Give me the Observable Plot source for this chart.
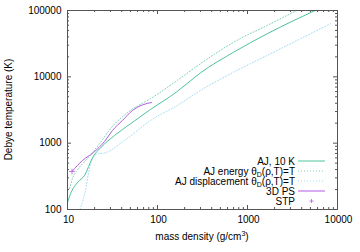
<!DOCTYPE html>
<html><head><meta charset="utf-8">
<script src="https://cdn.jsdelivr.net/npm/d3@7"></script>
<script src="https://cdn.jsdelivr.net/npm/@observablehq/plot@0.6"></script>
<style>
body{margin:0;background:#fff}
svg{font-family:"Liberation Sans",Arial,sans-serif}
</style>
</head><body><div id="chart"></div>
<script>
// ---- data ----
const aj10Density = [10, 10.99, 13.0, 15.45, 19.1, 23.7, 33.3, 50.1, 83.6, 165.5, 188, 214, 300, 704, 1655, 5650];
const aj10Temp    = [127.5, 182, 258, 326, 615, 871, 1306, 1962, 3224, 6023, 6918, 7955, 11450, 23590, 44670, 100000];

const ajEnergyDensity = [10.53, 11.36, 13.25, 15.85, 18.96, 23.26, 30.04, 50.1, 83.6, 165.5, 300, 704, 1655, 3540];
const ajEnergyTemp    = [207, 294, 415, 548, 724, 1025, 1649, 3113, 4674, 8826, 15760, 33380, 59620, 100000];

const ajDispDensity = [13.77, 16.1, 17.1, 19.1, 21.7, 25.1, 43, 83.6, 165.5, 300, 704, 1655, 3882, 8358];
const ajDispTemp    = [100, 217, 349, 587, 692, 705, 1098, 2200, 3704, 6235, 11780, 21030, 37560, 63240];

const psDensity = [11.22, 14.68, 19.45, 25.8, 31.6, 40.8, 52.8, 68.1, 85.8];
const psTemp    = [374, 548, 724, 1061, 1555, 2200, 3113, 3770, 4111];

const stpDensity = [11.22];
const stpTemp    = [374];

const xTickLabels = [10, 100, 1000, 10000];
const yTickLabels = [100, 1000, 10000, 100000];

const legendLabels = ["AJ, 10 K", "AJ energy θ_D(ρ,T)=T", "AJ displacement θ_D(ρ,T)=T", "3D PS", "STP"];

// ---- styling ----
const cAJ = "#4cc49a", cAJE = "#7cd3b3", cAJD = "#a4dcf4", cPS = "#b45ae4";
const dots = "1,2";

const toRows = (xs, ys) => xs.map((x, i) => ({x, y: ys[i]}));
const minors = (majors) => {
  const out = [];
  for (let i = 0; i < majors.length - 1; i++) for (let k = 2; k <= 9; k++) out.push(majors[i] * k);
  return out;
};
const xMinor = minors(xTickLabels), yMinor = minors(yTickLabels);

const W = 360, H = 252, mL = 67, mR = 23, mT = 10, mB = 43;
const fh = H - mT - mB, fw = W - mL - mR;
const major = 4, minor = 2;
const tickStroke = "#555";

const chart = Plot.plot({
  width: W, height: H,
  marginLeft: mL, marginRight: mR, marginTop: mT, marginBottom: mB,
  style: {fontFamily: '"Liberation Sans",Arial,sans-serif', fontSize: "10px", color: "#000", background: "#fff"},
  x: {type: "log", domain: [10, 10000]},
  y: {type: "log", domain: [100, 100000]},
  marks: [
    // inward ticks, all four sides
    Plot.tickX(xTickLabels, {x: d => d, insetTop: fh - major, stroke: tickStroke}),
    Plot.tickX(xTickLabels, {x: d => d, insetBottom: fh - major, stroke: tickStroke}),
    Plot.tickX(xMinor, {x: d => d, insetTop: fh - minor, stroke: tickStroke}),
    Plot.tickX(xMinor, {x: d => d, insetBottom: fh - minor, stroke: tickStroke}),
    Plot.tickY(yTickLabels, {y: d => d, insetRight: fw - major, stroke: tickStroke}),
    Plot.tickY(yTickLabels, {y: d => d, insetLeft: fw - major, stroke: tickStroke}),
    Plot.tickY(yMinor, {y: d => d, insetRight: fw - minor, stroke: tickStroke}),
    Plot.tickY(yMinor, {y: d => d, insetLeft: fw - minor, stroke: tickStroke}),
    Plot.axisX(xTickLabels, {anchor: "bottom", tickSize: 0, tickPadding: 6, dx: 1, tickFormat: d => String(d), label: null}),
    Plot.axisY(yTickLabels, {anchor: "left", tickSize: 0, tickPadding: 6, tickFormat: d => String(d), label: null}),
    // data
    Plot.line(toRows(ajDispDensity, ajDispTemp), {x: "x", y: "y", stroke: cAJD, strokeWidth: 1, strokeDasharray: dots, curve: "monotone-x", clip: true}),
    Plot.line(toRows(ajEnergyDensity, ajEnergyTemp), {x: "x", y: "y", stroke: cAJE, strokeWidth: 1, strokeDasharray: dots, curve: "monotone-x", clip: true}),
    Plot.line(toRows(aj10Density, aj10Temp), {x: "x", y: "y", stroke: cAJ, strokeWidth: 1, curve: "monotone-x", clip: true}),
    Plot.line(toRows(psDensity, psTemp), {x: "x", y: "y", stroke: cPS, strokeWidth: 1, curve: "monotone-x", clip: true}),
    Plot.dot(toRows(stpDensity, stpTemp), {x: "x", y: "y", symbol: "plus", r: 2, stroke: cPS, strokeWidth: 0.8}),
    Plot.frame({stroke: "#555", strokeWidth: 1})
  ]
});

document.getElementById("chart").appendChild(chart);

const svg = d3.select(chart);
// axis titles
svg.append("text")
  .attr("transform", `translate(12,${mT + fh / 2}) rotate(-90)`)
  .attr("text-anchor", "middle").attr("font-size", 10).attr("fill", "#000")
  .text("Debye temperature (K)");
const xt = svg.append("text")
  .attr("x", mL + fw / 2).attr("y", 240)
  .attr("text-anchor", "middle").attr("font-size", 10).attr("fill", "#000");
xt.append("tspan").text("mass density (g/cm");
xt.append("tspan").attr("font-size", 7).attr("dy", -4).text("3");
xt.append("tspan").attr("dy", 4).text(")");

// legend
const rowsY = [161, 171, 181, 191, 201];
const styles = [
  {stroke: cAJ, dash: null},
  {stroke: cAJE, dash: dots},
  {stroke: cAJD, dash: dots},
  {stroke: cPS, dash: null},
  {stroke: cPS, dash: "plus"}
];
legendLabels.forEach((lab, i) => {
  const y = rowsY[i];
  const t = svg.append("text").attr("x", 295).attr("y", y + 3.5)
    .attr("text-anchor", "end").attr("font-size", 10).attr("fill", "#000");
  const parts = lab.split("_D");
  if (parts.length === 2) {
    t.append("tspan").text(parts[0]);
    t.append("tspan").attr("font-size", 7).attr("dy", 2).text("D");
    t.append("tspan").attr("dy", -2).text(parts[1]);
  } else t.text(lab);
  const s = styles[i];
  if (s.dash === "plus") {
    svg.append("path").attr("d", `M${311.5 - 2},${y}h4M${311.5},${y - 2}v4`)
      .attr("stroke", s.stroke).attr("stroke-width", 0.8).attr("fill", "none");
  } else {
    svg.append("line").attr("x1", 298).attr("x2", 325).attr("y1", y).attr("y2", y)
      .attr("stroke", s.stroke).attr("stroke-width", 1)
      .attr("stroke-dasharray", s.dash);
  }
});
</script>
</body></html>
